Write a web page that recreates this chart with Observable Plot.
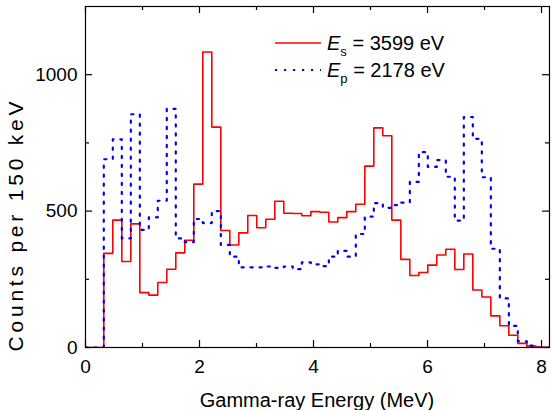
<!DOCTYPE html>
<html><head><meta charset="utf-8">
<script src="https://cdn.jsdelivr.net/npm/d3@7"></script>
<script src="https://cdn.jsdelivr.net/npm/@observablehq/plot@0.6"></script>
<style>html,body{margin:0;padding:0;background:#fff} svg{display:block}</style>
</head><body><div id="chart"></div>
<script>
// Bin start energies (MeV); first entry is the axis origin, last entry closes the final bin
const energy = [0, 0.321, 0.479, 0.637, 0.795, 0.953, 1.111, 1.268, 1.426, 1.584, 1.742,
  1.900, 2.058, 2.216, 2.374, 2.532, 2.690, 2.847, 3.005, 3.163, 3.321,
  3.479, 3.637, 3.795, 3.953, 4.111, 4.269, 4.426, 4.584, 4.742, 4.900,
  5.058, 5.216, 5.374, 5.532, 5.690, 5.848, 6.005, 6.163, 6.321, 6.479,
  6.637, 6.795, 6.953, 7.111, 7.269, 7.427, 7.584, 7.742, 7.900, 8.058, 8.216];
// Counts per bin, Es = 3599 eV (red, solid)
const countsEs = [0, 345, 467, 315, 453, 201, 192, 238, 287, 347, 393,
  599, 1083, 808, 429, 376, 420, 484, 439, 470, 536,
  492, 491, 483, 498, 496, 460, 476, 498, 525, 665,
  805, 776, 467, 323, 264, 275, 302, 339, 360, 286,
  343, 211, 185, 116, 80, 45, 15, 5, 2, 0, 0];
// Counts per bin, Ep = 2178 eV (blue, dotted)
const countsEp = [0, 690, 763, 400, 855, 431, 477, 538, 875, 400, 386,
  471, 456, 500, 376, 333, 294, 294, 294, 297, 292,
  297, 287, 312, 305, 298, 333, 354, 333, 416, 480,
  529, 512, 522, 531, 607, 716, 662, 687, 626, 465,
  845, 765, 624, 362, 180, 79, 23, 7, 0, 0, 0];
const xTicksMajor = [0, 2, 4, 6, 8];
const xTicksMinor = [1, 3, 5, 7];
const yTicksMajor = [0, 500, 1000];
const yTicksMinor = [250, 750];
const xTitle = "Gamma-ray Energy (MeV)";
const yTitle = "Counts per 150 keV";
const legendSymbols = ["s", "p"];
const legendValues = ["3599 eV", "2178 eV"];
const seriesColors = ["#ff0000", "#0000ff"];

const W = 552, H = 410, mL = 85, mR = 3, mT = 6, mB = 63;
const innerW = W - mL - mR, innerH = H - mT - mB;
const font = "'Liberation Sans', Arial, Helvetica, sans-serif";
const dotted = "2.2,6.8";

const rows = energy.map((e, i) => ({e, s: countsEs[i], p: countsEp[i]}));

const chart = Plot.plot({
  width: W, height: H,
  marginLeft: mL, marginRight: mR, marginTop: mT, marginBottom: mB,
  style: {fontFamily: font, fontSize: "19px", color: "#000", background: "#fff", overflow: "visible"},
  x: {domain: [0, 8.14]},
  y: {domain: [0, 1250]},
  marks: [
    Plot.line(rows, {x: "e", y: "s", curve: "step-after", stroke: seriesColors[0], strokeWidth: 1.6, clip: true}),
    Plot.line(rows, {x: "e", y: "p", curve: "step-after", stroke: seriesColors[1], strokeWidth: 2.2, strokeDasharray: dotted, clip: true}),
    Plot.frame({stroke: "#000", strokeWidth: 1.2}),
    Plot.tickX(xTicksMajor, {x: d => d, insetTop: innerH - 7, stroke: "#000", strokeWidth: 1.2}),
    Plot.tickX(xTicksMajor, {x: d => d, insetBottom: innerH - 7, stroke: "#000", strokeWidth: 1.2}),
    Plot.tickX(xTicksMinor, {x: d => d, insetTop: innerH - 4, stroke: "#000", strokeWidth: 1.2}),
    Plot.tickX(xTicksMinor, {x: d => d, insetBottom: innerH - 4, stroke: "#000", strokeWidth: 1.2}),
    Plot.tickY(yTicksMajor, {y: d => d, insetRight: innerW - 7, stroke: "#000", strokeWidth: 1.2}),
    Plot.tickY(yTicksMajor, {y: d => d, insetLeft: innerW - 7, stroke: "#000", strokeWidth: 1.2}),
    Plot.tickY(yTicksMinor, {y: d => d, insetRight: innerW - 4, stroke: "#000", strokeWidth: 1.2}),
    Plot.tickY(yTicksMinor, {y: d => d, insetLeft: innerW - 4, stroke: "#000", strokeWidth: 1.2}),
    Plot.axisX(xTicksMajor, {tickSize: 0, tickPadding: 12, label: null, fontSize: 19, tickFormat: d => String(d)}),
    Plot.axisY(yTicksMajor, {tickSize: 0, tickPadding: 8, label: null, fontSize: 19, tickFormat: d => String(d)})
  ]
});
document.getElementById("chart").appendChild(chart);

const svg = d3.select(chart);
// Axis titles
svg.append("text").attr("x", mL + innerW / 2).attr("y", 407)
  .attr("text-anchor", "middle").attr("font-family", font).attr("font-size", 20).attr("fill", "#000")
  .text(xTitle);
svg.append("text").attr("transform", "translate(23,226.5) rotate(-90)")
  .attr("text-anchor", "middle").attr("font-family", font).attr("font-size", 21).attr("fill", "#000")
  .attr("textLength", 250).attr("lengthAdjust", "spacing")
  .text(yTitle);

// Legend (inside plot, top)
const lg = svg.append("g").attr("font-family", font).attr("font-size", 20).attr("fill", "#000").attr("text-anchor", "start");
const legendYs = [43, 70];
legendSymbols.forEach((sym, i) => {
  const y = legendYs[i];
  const ln = lg.append("line").attr("x1", 275).attr("x2", 321).attr("y1", y).attr("y2", y)
    .attr("stroke", seriesColors[i]).attr("stroke-width", i === 0 ? 1.6 : 2.2);
  if (i === 1) ln.attr("stroke-dasharray", dotted);
  const t = lg.append("text").attr("x", 327).attr("y", y + 7).attr("text-anchor", "start");
  t.append("tspan").attr("font-style", "italic").text("E");
  t.append("tspan").attr("font-size", 13).attr("dy", 6).text(sym);
  t.append("tspan").attr("dy", -6).text(" = " + legendValues[i]);
});
</script></body></html>
